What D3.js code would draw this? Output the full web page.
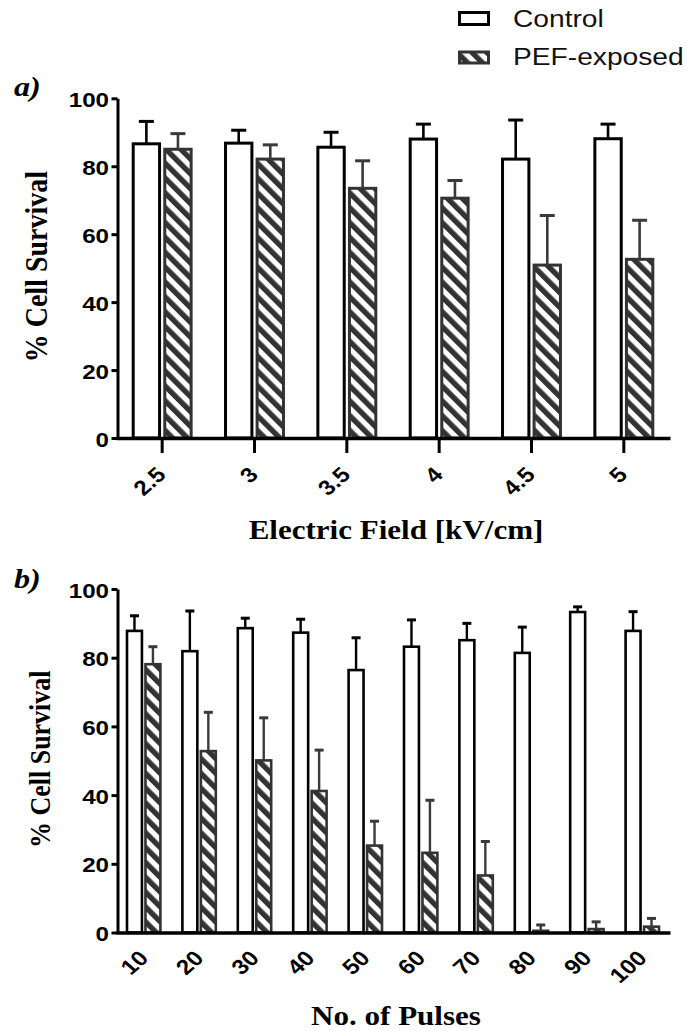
<!DOCTYPE html>
<html>
<head>
<meta charset="utf-8">
<script src="https://cdn.jsdelivr.net/npm/d3@7"></script>
<style>
  html, body { margin: 0; padding: 0; background: #fff; }
  svg { display: block; }
</style>
</head>
<body>
<svg id="chart" width="688" height="1031"></svg>
<script>
// ---- data -------------------------------------------------------------
const seriesKeys = ["Control", "PEF-exposed"];

// (a) survival vs. electric field strength
const fieldLabels     = ["2.5", "3", "3.5", "4", "4.5", "5"];
const fieldControl    = [86.6, 86.8, 85.6, 88.0, 82.1, 88.1];
const fieldControlErr = [6.6, 3.8, 4.4, 4.4, 11.5, 4.3];
const fieldPEF        = [85.0, 82.1, 73.5, 70.6, 50.9, 52.6];
const fieldPEFErr     = [4.6, 4.2, 8.1, 5.2, 14.6, 11.5];

// (b) survival vs. number of pulses
const pulseLabels     = ["10", "20", "30", "40", "50", "60", "70", "80", "90", "100"];
const pulseControl    = [87.8, 81.9, 88.6, 87.3, 76.4, 83.2, 85.1, 81.4, 93.3, 87.8];
const pulseControlErr = [4.4, 11.7, 2.9, 3.9, 9.4, 7.8, 4.9, 7.5, 1.5, 5.6];
const pulsePEF        = [78.1, 52.8, 50.1, 41.2, 25.3, 23.2, 16.6, 0.5, 1.0, 1.7];
const pulsePEFErr     = [5.1, 11.3, 12.4, 11.9, 7.1, 15.3, 9.9, 1.7, 2.1, 2.4];

const yTicks = [0, 20, 40, 60, 80, 100];

// ---- setup ------------------------------------------------------------
const SX = 1.15;                 // horizontal glyph stretch of the figure text
const SANS = "'Liberation Sans', Arial, sans-serif";
const SERIF = "'Liberation Serif', 'Times New Roman', serif";
const TICK_FONT = 21;

const svg = d3.select("#chart");
const defs = svg.append("defs");
const hatch = defs.append("pattern")
  .attr("id", "hatch")
  .attr("patternUnits", "userSpaceOnUse")
  .attr("width", 10.5).attr("height", 10.5)
  .attr("patternTransform", "rotate(-45)");
hatch.append("rect").attr("width", 10.5).attr("height", 10.5).attr("fill", "#fff");
hatch.append("rect").attr("width", 5.4).attr("height", 10.5).attr("fill", "#333");

const styles = {
  "Control":     { fill: "#fff", stroke: "#000", err: "#000" },
  "PEF-exposed": { fill: "url(#hatch)", stroke: "#333", err: "#3a3a3a" }
};

function drawPanel(cfg) {
  const g = svg.append("g");
  const y = d3.scaleLinear().domain([0, 100]).range([cfg.y0, cfg.y1]);
  const x = d3.scaleBand().domain(cfg.labels).range([116, 670])
    .paddingInner(cfg.pad).paddingOuter(cfg.pad / 2);
  const xs = d3.scaleBand().domain(seriesKeys).range([0, x.bandwidth()])
    .paddingInner(cfg.innerPad);

  const rows = cfg.labels.map((lab, i) => ({
    lab,
    vals: [
      { key: "Control", v: cfg.control[i], e: cfg.controlErr[i] },
      { key: "PEF-exposed", v: cfg.pef[i], e: cfg.pefErr[i] }
    ]
  }));

  const sw = cfg.barStroke;
  const groups = g.selectAll("g.grp").data(rows).join("g")
    .attr("class", "grp")
    .attr("transform", d => `translate(${x(d.lab)},0)`);

  // bars
  groups.selectAll("rect").data(d => d.vals).join("rect")
    .attr("x", d => xs(d.key) + sw / 2)
    .attr("width", xs.bandwidth() - sw)
    .attr("y", d => y(d.v))
    .attr("height", d => y(0) - y(d.v))
    .attr("fill", d => styles[d.key].fill)
    .attr("stroke", d => styles[d.key].stroke)
    .attr("stroke-width", sw);

  // upper error whiskers
  const cx = d => xs(d.key) + xs.bandwidth() / 2;
  groups.selectAll("line.err").data(d => d.vals).join("line")
    .attr("class", "err")
    .attr("x1", cx).attr("x2", cx)
    .attr("y1", d => y(d.v)).attr("y2", d => y(d.v + d.e))
    .attr("stroke", d => styles[d.key].err)
    .attr("stroke-width", cfg.errStroke);
  groups.selectAll("line.cap").data(d => d.vals).join("line")
    .attr("class", "cap")
    .attr("x1", d => cx(d) - cfg.cap / 2).attr("x2", d => cx(d) + cfg.cap / 2)
    .attr("y1", d => y(d.v + d.e)).attr("y2", d => y(d.v + d.e))
    .attr("stroke", d => styles[d.key].err)
    .attr("stroke-width", 3);

  // y axis
  const ya = g.append("g")
    .attr("transform", "translate(117.5,0)")
    .call(d3.axisLeft(y).tickValues(yTicks).tickSize(6).tickSizeOuter(0));
  ya.select(".domain").attr("stroke-width", 3).attr("stroke", "#000");
  ya.selectAll(".tick line").attr("stroke-width", 3).attr("stroke", "#000");
  ya.selectAll(".tick text")
    .attr("x", 0).attr("dy", 0)
    .attr("text-anchor", "end")
    .attr("transform", `translate(-8.5,8) scale(${SX},1)`)
    .attr("font-family", SANS).attr("font-weight", "bold")
    .attr("font-size", TICK_FONT).attr("fill", "#000");

  // x axis
  const xa = g.append("g")
    .attr("transform", `translate(0,${cfg.y0})`)
    .call(d3.axisBottom(x).tickSize(cfg.tickLen).tickSizeOuter(0));
  xa.select(".domain").attr("stroke-width", 3.5).attr("stroke", "#000");
  xa.selectAll(".tick line").attr("stroke-width", 3).attr("stroke", "#000");
  xa.selectAll(".tick text")
    .attr("y", 0).attr("dy", 0)
    .attr("text-anchor", "end")
    .attr("transform", `translate(${cfg.lblDx},${cfg.lblDy}) scale(${SX},1) rotate(-45)`)
    .attr("font-family", SANS).attr("font-weight", "bold")
    .attr("font-size", TICK_FONT).attr("fill", "#000");

  // titles
  g.append("text")
    .attr("transform", `translate(${cfg.yTitleX},${(cfg.y0 + cfg.y1) / 2 - 1.5}) scale(${SX},1) rotate(-90)`)
    .attr("text-anchor", "middle")
    .attr("font-family", SERIF).attr("font-weight", "bold")
    .attr("font-size", cfg.yTitleSize)
    .text("% Cell Survival");
  g.append("text")
    .attr("transform", `translate(396,${cfg.xTitleY}) scale(${SX},1)`)
    .attr("text-anchor", "middle")
    .attr("font-family", SERIF).attr("font-weight", "bold")
    .attr("font-size", 27)
    .text(cfg.xTitle);
  g.append("text")
    .attr("transform", `translate(14,${cfg.tagY}) scale(${SX},1)`)
    .attr("font-family", SERIF).attr("font-weight", "bold").attr("font-style", "italic")
    .attr("font-size", 28)
    .text(cfg.tag);
}

drawPanel({
  labels: fieldLabels, control: fieldControl, controlErr: fieldControlErr,
  pef: fieldPEF, pefErr: fieldPEFErr,
  y0: 438, y1: 98.3, pad: 0.34, innerPad: 0.07,
  barStroke: 3, errStroke: 2.6, cap: 15,
  tickLen: 15, lblDx: 5, lblDy: 38,
  yTitleX: 47, yTitleSize: 28,
  xTitle: "Electric Field [kV/cm]", xTitleY: 539,
  tag: "a)", tagY: 96
});

drawPanel({
  labels: pulseLabels, control: pulseControl, controlErr: pulseControlErr,
  pef: pulsePEF, pefErr: pulsePEFErr,
  y0: 932.5, y1: 589, pad: 0.35, innerPad: 0.05,
  barStroke: 2.6, errStroke: 2.4, cap: 9,
  tickLen: 0, lblDx: 6, lblDy: 27,
  yTitleX: 50, yTitleSize: 26,
  xTitle: "No. of Pulses", xTitleY: 1025,
  tag: "b)", tagY: 588
});

// ---- legend -----------------------------------------------------------
const legend = svg.append("g");
const legendRows = [
  { key: "Control", y: 12.5, h: 12, base: 27 },
  { key: "PEF-exposed", y: 52, h: 11, base: 65 }
];
legend.selectAll("rect").data(legendRows).join("rect")
  .attr("x", 459.5).attr("y", d => d.y)
  .attr("width", 29).attr("height", d => d.h)
  .attr("fill", d => styles[d.key].fill)
  .attr("stroke", d => styles[d.key].stroke)
  .attr("stroke-width", 3);
legend.selectAll("text").data(legendRows).join("text")
  .attr("transform", d => `translate(513,${d.base}) scale(${SX},1)`)
  .attr("font-family", SANS).attr("font-size", 24.5).attr("fill", "#111")
  .text(d => d.key);
</script>
</body>
</html>
